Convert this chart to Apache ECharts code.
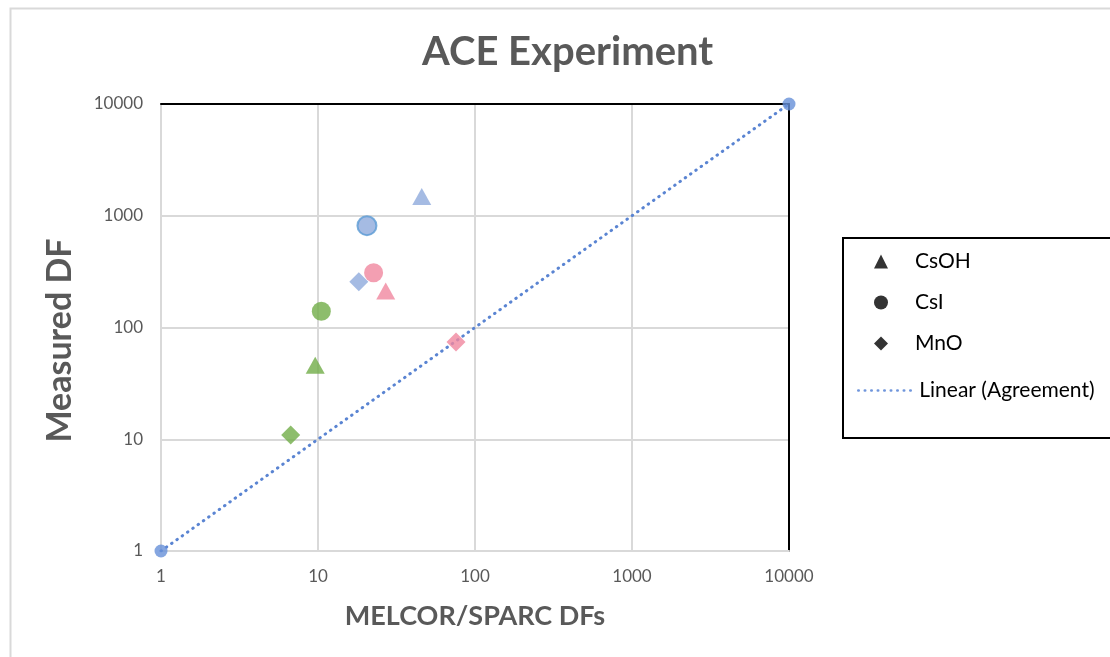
<!DOCTYPE html>
<html>
<head>
<meta charset="utf-8">
<script src="https://cdn.jsdelivr.net/npm/echarts@6/dist/echarts.min.js"></script>
<style>
  html, body { margin: 0; padding: 0; background: #fff; }
  #main { width: 1110px; height: 657px; }
</style>
</head>
<body>
<div id="main"></div>
<script>
// data (x = MELCOR/SPARC DF, y = measured DF)
var pointColors = ['#70ad47', '#8faadc', '#f0879f'];   // green, blue, pink
var csohX = [9.6, 45.8, 27.0];
var csohY = [46, 1490, 212];
var csiX = [10.5, 20.5, 22.6];
var csiY = [140, 815, 309];
var mnoX = [6.7, 18.2, 75.7];
var mnoY = [10.9, 257, 74];
var agreeX = [1, 10000];
var agreeY = [1, 10000];
var tickLabels = ['1', '10', '100', '1000', '10000'];

function pts(xs, ys, borders) {
  return xs.map(function (x, i) {
    var st = { color: pointColors[i] };
    if (borders && borders[i]) {
      st.borderColor = borders[i];
      st.borderWidth = 2;
    }
    return { value: [x, ys[i]], itemStyle: st };
  });
}

var chart = echarts.init(document.getElementById('main'));

var fontFam = 'Lato, "Open Sans", sans-serif';
var axisLab = {
  color: '#595959',
  fontSize: 17,
  fontFamily: fontFam,
  formatter: function (v) { return tickLabels[Math.round(Math.log10(v))]; }
};
var legendText = { fontSize: 21, color: '#000', fontFamily: fontFam };

var option = {
  backgroundColor: '#fff',
  animation: false,
  title: {
    text: 'ACE Experiment',
    left: 417,
    top: 27,
    textStyle: { fontSize: 40, fontWeight: 'bold', color: '#595959', fontFamily: fontFam }
  },
  graphic: [
    {
      type: 'rect', left: 8, top: 6, z: -1,
      shape: { width: 1200, height: 700 },
      style: { fill: 'none', stroke: '#d9d9d9', lineWidth: 2 }
    },
    {
      type: 'rect', left: 842, top: 237, z: 0,
      shape: { width: 300, height: 200 },
      style: { fill: '#fff', stroke: '#000', lineWidth: 2 }
    }
  ],
  legend: [
    {
      // marker entries
      orient: 'vertical',
      left: 869,
      top: 246,
      itemWidth: 14,
      itemHeight: 14,
      itemGap: 20,
      z: 5,
      data: ['CsOH', 'CsI', 'MnO'],
      textStyle: Object.assign({ padding: [0, 0, 0, 22] }, legendText)
    },
    {
      // trend line entry
      orient: 'vertical',
      left: 852,
      top: 375,
      itemWidth: 56,
      itemHeight: 14,
      z: 5,
      data: ['Linear (Agreement)'],
      itemStyle: { color: 'transparent', borderColor: 'transparent' },
      lineStyle: { width: 2.5, color: '#7096dc' },
      textStyle: legendText
    }
  ],
  grid: { left: 161, top: 104, width: 628, height: 447 },
  xAxis: [
    {
      type: 'log', logBase: 10, min: 1, max: 10000,
      name: 'MELCOR/SPARC DFs',
      nameLocation: 'middle',
      nameGap: 52,
      nameTextStyle: { fontSize: 27, fontWeight: 'bold', color: '#595959', fontFamily: fontFam },
      axisLine: { lineStyle: { color: '#d9d9d9', width: 2 } },
      axisTick: { show: false },
      axisLabel: Object.assign({ margin: 17 }, axisLab),
      splitLine: { show: true, lineStyle: { color: '#d9d9d9', width: 2 } },
      minorTick: { show: false }
    },
    {
      type: 'log', logBase: 10, min: 1, max: 10000,
      position: 'top',
      axisLine: { show: true, lineStyle: { color: '#000', width: 2 } },
      axisTick: { show: false },
      axisLabel: { show: false },
      splitLine: { show: false }
    }
  ],
  yAxis: [
    {
      type: 'log', logBase: 10, min: 1, max: 10000,
      name: 'Measured DF',
      nameLocation: 'middle',
      nameGap: 84,
      nameTextStyle: {
        fontSize: 34, fontWeight: 'bold', color: '#595959', fontFamily: fontFam,
        padding: [0, 26, 0, 0]
      },
      axisLine: { show: true, lineStyle: { color: '#d9d9d9', width: 2 } },
      axisTick: { show: false },
      axisLabel: Object.assign({ margin: 18 }, axisLab),
      splitLine: { show: true, lineStyle: { color: '#d9d9d9', width: 2 } }
    },
    {
      type: 'log', logBase: 10, min: 1, max: 10000,
      position: 'right',
      axisLine: { show: true, lineStyle: { color: '#000', width: 2 } },
      axisTick: { show: false },
      axisLabel: { show: false },
      splitLine: { show: false }
    }
  ],
  series: [
    {
      name: 'Linear (Agreement)',
      type: 'line',
      symbol: 'none',
      showSymbol: false,
      data: agreeX.map(function (x, i) { return [x, agreeY[i]]; }),
      lineStyle: { color: '#5a84d2', width: 3, type: [0.5, 6], cap: 'round' },
      itemStyle: { color: '#5a84d2' },
      z: 3
    },
    {
      name: 'agreement ends',
      type: 'scatter',
      symbol: 'circle',
      symbolSize: 13,
      itemStyle: { color: '#6690d8' },
      data: agreeX.map(function (x, i) { return [x, agreeY[i]]; }),
      z: 4
    },
    {
      name: 'CsOH',
      type: 'scatter',
      symbol: 'triangle',
      symbolSize: [19, 17],
      itemStyle: { color: '#000' },
      data: pts(csohX, csohY),
      z: 5
    },
    {
      name: 'CsI',
      type: 'scatter',
      symbol: 'circle',
      symbolSize: 19,
      itemStyle: { color: '#000' },
      data: pts(csiX, csiY, [null, '#5b9bd5', null]),
      z: 5
    },
    {
      name: 'MnO',
      type: 'scatter',
      symbol: 'diamond',
      symbolSize: 19,
      itemStyle: { color: '#000' },
      data: pts(mnoX, mnoY),
      z: 5
    }
  ]
};

chart.setOption(option);
</script>
</body>
</html>
